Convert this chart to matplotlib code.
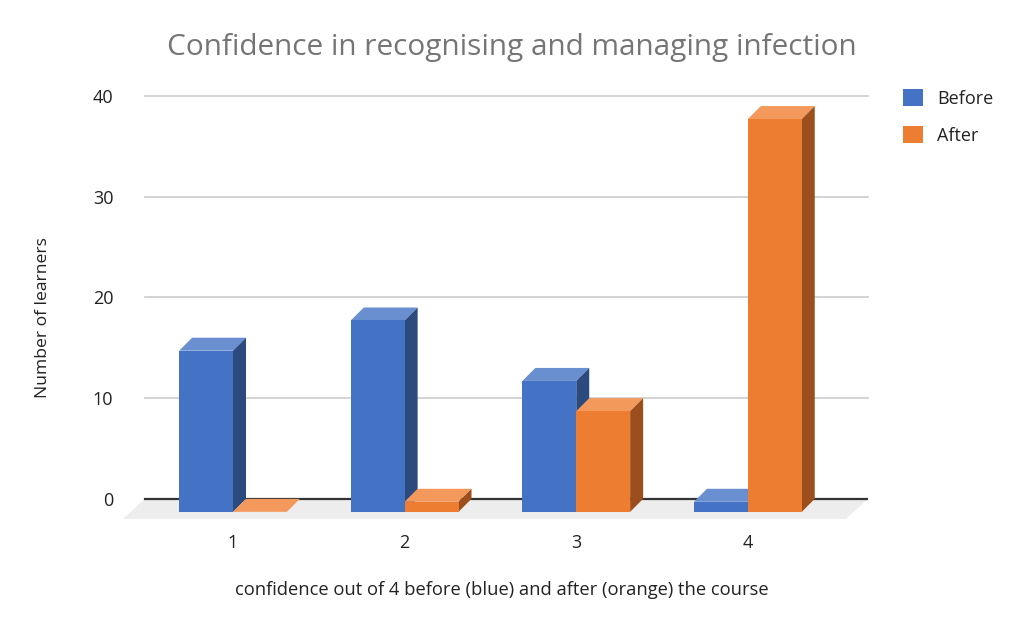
import numpy as np
import matplotlib.pyplot as plt
from matplotlib.patches import Polygon, Patch

# data
categories = ['1', '2', '3', '4']
before = [16, 19, 13, 1]
after = [0, 1, 10, 39]
y_ticks = [0, 10, 20, 30, 40]
series_names = ['Before', 'After']

# colours: front, top, side
blue = ('#4472C4', '#6A8FD1', '#2D4A7F')
orange = ('#ED7D31', '#F2995B', '#9C4E1D')

plt.rcParams['font.family'] = ['Open Sans', 'DejaVu Sans']

fig = plt.figure(figsize=(10.24, 6.33), dpi=100)
ax = fig.add_axes([123 / 1024, 1 - 519 / 633, (868 - 123) / 1024, (519 - 96) / 633])
ax.set_xlim(0.359, 4.70)
ax.set_ylim(-2, 40)
for s in ax.spines.values():
    s.set_visible(False)

width = 0.314   # bar width in category units
dx, dy = 0.0757, 1.29   # 3d depth (x units, y units)
wall_left, wall_right = 0.487, 4.70
floor_dx, floor_dy = 0.128, 1.99

# floor
ax.add_patch(Polygon([(wall_left, 0), (wall_right, 0),
                      (wall_right - floor_dx, -floor_dy), (wall_left - floor_dx, -floor_dy)],
                     closed=True, facecolor='#EDEDED', edgecolor='none', zorder=1))
# grid on back wall
for t in y_ticks[1:]:
    ax.plot([wall_left, wall_right], [t, t], color='#CCCCCC', lw=1.2, zorder=1, clip_on=False)
ax.plot([wall_left, wall_right], [0, 0], color='#333333', lw=1.6, zorder=2)


def bar3d(x0, h, cols, z):
    x1 = x0 + width
    # top face
    ax.add_patch(Polygon([(x0, h - dy), (x1, h - dy), (x1 + dx, h), (x0 + dx, h)],
                         closed=True, facecolor=cols[1], edgecolor='none', zorder=z))
    if h > 0:
        # side face
        ax.add_patch(Polygon([(x1, -dy), (x1 + dx, 0), (x1 + dx, h), (x1, h - dy)],
                             closed=True, facecolor=cols[2], edgecolor='none', zorder=z))
        # front face
        ax.bar(x0, h, width=width, bottom=-dy, align='edge', color=cols[0],
               edgecolor='none', zorder=z + 0.5)


x = np.arange(1, len(categories) + 1)
z = 3
for i in range(len(categories)):
    bar3d(x[i] - width, before[i], blue, z)
    z += 1
    bar3d(x[i], after[i], orange, z)
    z += 1

ax.set_xticks(x)
ax.set_xticklabels(categories)
ax.set_yticks(y_ticks)
ax.tick_params(axis='both', length=0, labelsize=13, colors='#222222')
ax.tick_params(axis='x', pad=11)
ax.tick_params(axis='y', pad=7)

fig.text(512 / 1024, 1 - 48 / 633, 'Confidence in recognising and managing infection',
         ha='center', va='center', fontsize=21.4, color='#757575')
fig.text(502 / 1024, 1 - 590 / 633, 'confidence out of 4 before (blue) and after (orange) the course',
         ha='center', va='center', fontsize=13.2, color='#222222')
fig.text(43 / 1024, 1 - 318 / 633, 'Number of learners', rotation=90,
         ha='center', va='center', fontsize=12.6, color='#222222')

handles = [Patch(facecolor=blue[0]), Patch(facecolor=orange[0])]
ax.legend(handles, series_names, loc='upper left', bbox_to_anchor=(894 / 1024, 1 - 80 / 633),
          bbox_transform=fig.transFigure, frameon=False, fontsize=13,
          handlelength=1.1, handleheight=1.1, handletextpad=0.8, labelspacing=1.0, borderpad=0,
          labelcolor='#222222')

fig.savefig('out.png', dpi=100)
